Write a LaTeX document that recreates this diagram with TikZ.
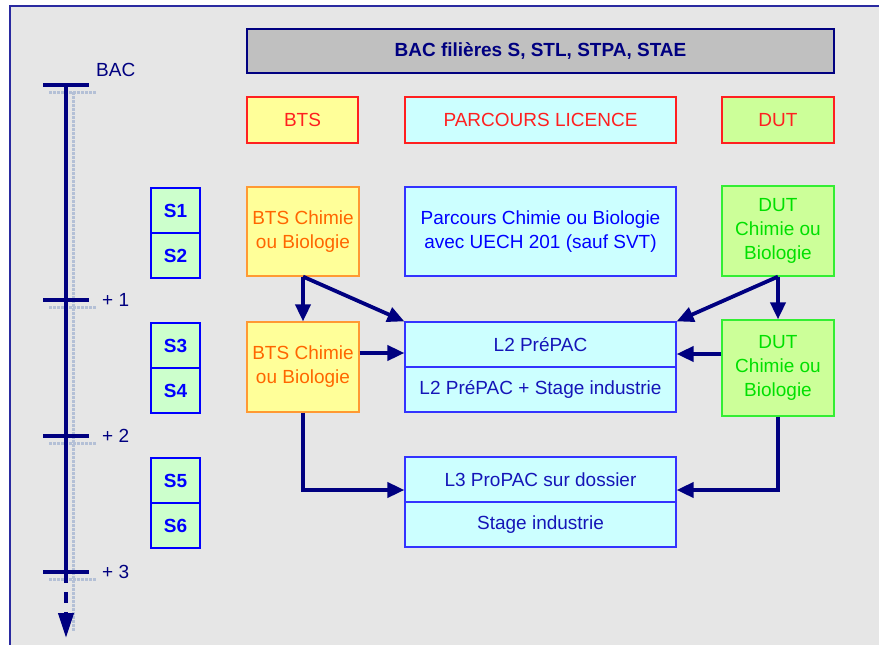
\documentclass[tikz,border=0pt]{standalone}
\usepackage{fontspec}
\setmainfont{Liberation Sans}
\usetikzlibrary{arrows.meta}
\definecolor{bg}{HTML}{E6E6E6}
\definecolor{navy}{HTML}{000080}
\definecolor{framec}{HTML}{2A2AA0}
\definecolor{grayfill}{HTML}{C0C0C0}
\definecolor{yel}{HTML}{FFFF99}
\definecolor{cyanf}{HTML}{CCFFFF}
\definecolor{greenf}{HTML}{CCFF99}
\definecolor{sfill}{HTML}{CCFFCC}
\definecolor{redc}{HTML}{FF2020}
\definecolor{orangeb}{HTML}{FF9933}
\definecolor{oranget}{HTML}{FF6600}
\definecolor{greenb}{HTML}{33EE33}
\definecolor{greent}{HTML}{00E000}
\definecolor{blueb}{HTML}{3333FF}
\definecolor{bluet}{HTML}{0000FF}
\definecolor{l2t}{HTML}{1515B8}
\definecolor{shadowc}{HTML}{B4C0D6}
\begin{document}
\begin{tikzpicture}[x=1pt,y=-1pt,
  font=\fontsize{19}{24}\selectfont,
  box/.style={rectangle, draw, line width=1.2pt, inner sep=0pt, align=center},
  hdr/.style={box, draw=redc, text=redc, minimum height=46pt},
  bts/.style={box, fill=yel, draw=orangeb, text=oranget, minimum width=112pt},
  dut/.style={box, fill=greenf, draw=greenb, text=greent, minimum width=112pt},
  lic/.style={box, fill=cyanf, draw=blueb, minimum width=271pt},
  sem/.style={box, fill=sfill, draw=bluet, text=bluet, font=\fontsize{19}{22}\selectfont\bfseries, minimum width=49pt, minimum height=45pt},
  arr/.style={draw=navy, line width=3.8pt, -{Triangle[length=17pt,width=15pt]}},
  tick/.style={draw=navy, line width=3.5pt},
  shd/.style={draw=shadowc, line width=3pt, densely dotted},
  tl/.style={anchor=west, text=navy, inner sep=0pt}
]
\useasboundingbox (0,0) rectangle (879,645);
% background and frame
\fill[bg] (10,6) rectangle (879,645);
\draw[framec, line width=1.5pt] (10,645) -- (10,6) -- (879,6);

% timeline shadow
\draw[shd] (73,92) -- (73,632);
\foreach \y in {85,300,436,572} {\draw[shd] (49,\y+7) -- (96,\y+7);}
% timeline
\coordinate (t0) at (66,85);
\coordinate (t1) at (66,300);
\coordinate (t2) at (66,436);
\coordinate (t3) at (66,572);
\coordinate (tend) at (66,638);
\draw[navy, line width=4pt] (t0) -- (t3);
\draw[navy, line width=4pt, dash pattern=on 11pt off 9pt, -{Triangle[length=25pt,width=15pt]}] (t3) -- (tend);
\foreach \c in {t0,t1,t2,t3} {\draw[tick] ([xshift=-23pt]\c) -- ([xshift=23pt]\c);}
\node[tl] (lbac) at (96,70) {BAC};
\node[tl] (l1) at (102,300) {+ 1};
\node[tl] (l2lab) at (102,436) {+ 2};
\node[tl] (l3lab) at (102,572) {+ 3};

% semesters
\node[sem] (s1) at (175.5,210.5) {S1};
\node[sem] (s2) at (175.5,255.5) {S2};
\node[sem] (s3) at (175.5,345.5) {S3};
\node[sem] (s4) at (175.5,390.5) {S4};
\node[sem] (s5) at (175.5,480.5) {S5};
\node[sem] (s6) at (175.5,525.5) {S6};

% header
\node[box, fill=grayfill, draw=navy, text=navy, font=\fontsize{19}{22}\selectfont\bfseries,
  minimum width=587pt, minimum height=44pt] (bac) at (540.5,51) {BAC filières S, STL, STPA, STAE};
\node[hdr, fill=yel, minimum width=111pt] (hbts) at (302.5,120) {BTS};
\node[hdr, fill=cyanf, minimum width=271pt] (hlic) at (540.5,120) {PARCOURS LICENCE};
\node[hdr, fill=greenf, minimum width=112pt] (hdut) at (778,120) {DUT};

% row 1
\node[bts, minimum height=89pt] (bts1) at (303,231.5) {BTS Chimie\\ou Biologie};
\node[lic, text=bluet, minimum height=89pt] (parc) at (540.5,231.5) {Parcours Chimie ou Biologie\\avec UECH 201 (sauf SVT)};
\node[dut, minimum height=90pt] (dut1) at (778,231) {DUT\\Chimie ou\\Biologie};

% row 2
\node[bts, minimum height=90pt] (bts2) at (303,367) {BTS Chimie\\ou Biologie};
\node[lic, text=l2t, minimum height=45pt] (l2a) at (540.5,344.5) {L2 PréPAC};
\node[lic, text=l2t, minimum height=45pt] (l2b) at (540.5,389.5) {L2 PréPAC + Stage industrie};
\node[dut, minimum height=96pt] (dut2) at (778,368) {DUT\\Chimie ou\\Biologie};

% row 3
\node[lic, text=l2t, minimum height=45pt] (l3a) at (540.5,479.5) {L3 ProPAC sur dossier};
\node[lic, text=l2t, minimum height=45pt] (l3b) at (540.5,524.5) {Stage industrie};

% arrows
\draw[arr] (bts1.south) -- (bts2.north);
\draw[arr] (bts1.south) -- (l2a.north west);
\draw[arr] ([yshift=14pt]bts2.east) -- ([yshift=14pt]bts2.east -| l2a.west);
\draw[arr] (bts2.south) |- ([yshift=-10.5pt]l3a.west);
\draw[arr] (dut1.south) -- (dut2.north);
\draw[arr] (dut1.south) -- (l2a.north east);
\draw[arr] ([yshift=14pt]dut2.west) -- ([yshift=14pt]dut2.west -| l2a.east);
\draw[arr] (dut2.south) |- ([yshift=-10.5pt]l3a.east);
\end{tikzpicture}
\end{document}
